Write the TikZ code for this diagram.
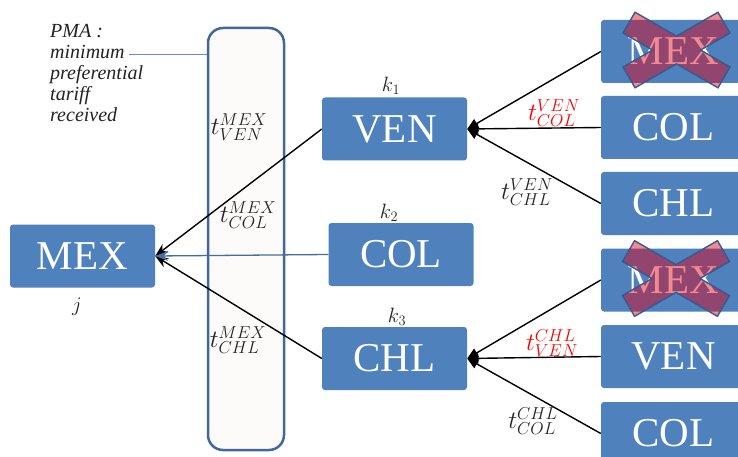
\documentclass[tikz,border=0pt]{standalone}
\usepackage{fontspec}
\setmainfont{Liberation Serif}
\usetikzlibrary{arrows.meta}

\definecolor{boxblue}{RGB}{79,129,189}
\definecolor{edgeblue}{RGB}{65,104,154}
\definecolor{panelfill}{RGB}{252,251,250}
\definecolor{crossfill}{RGB}{225,0,20}
\definecolor{crossedge}{RGB}{52,92,142}
\definecolor{labelgray}{RGB}{35,35,35}

\tikzset{
  country/.style={fill=boxblue, text=white, rounded corners=3pt,
    minimum width=145pt, minimum height=63pt, inner sep=0pt,
    font=\fontsize{41}{44}\selectfont},
  panel/.style={draw=edgeblue, line width=2.5pt, fill=panelfill,
    rounded corners=15pt, minimum width=76pt, minimum height=422pt},
  tariff/.style={text=labelgray, inner sep=0pt, font=\fontsize{23}{27}\selectfont},
  redtariff/.style={text=red, inner sep=0pt, font=\fontsize{23}{27}\selectfont},
  idx/.style={text=labelgray, inner sep=0pt, font=\fontsize{22}{26}\selectfont},
  toroot/.style={draw=black, line width=1.4pt, -{Stealth[length=13pt,width=10pt]}},
  torootblue/.style={draw=boxblue!85!black, line width=1.3pt, -{Stealth[length=13pt,width=10pt]}},
  tobranch/.style={draw=black, line width=1.4pt, -{Triangle[length=11pt,width=10pt]}},
  pics/excluded/.style={code={
    \draw[fill=crossfill, fill opacity=0.46, draw=crossedge, line width=1.4pt, line join=miter]
      (24,0) -- (53.46,17.01) -- (41.46,37.79) -- (0,13.86) -- (-41.46,37.79)
      -- (-53.46,17.01) -- (-24,0) -- (-53.46,-17.01) -- (-41.46,-37.79)
      -- (0,-13.86) -- (41.46,-37.79) -- (53.46,-17.01) -- cycle;
  }}
}

\begin{document}
\begin{tikzpicture}[x=1pt, y=-1pt]
  \clip (0,0) rectangle (738,457);
  \fill[white] (0,0) rectangle (738,457);

  % tariff panel
  \node[panel] (panel) at (246,239) {};

  % note on the panel
  \node[anchor=north west, align=left, inner sep=0pt,
        font=\fontsize{20}{21}\selectfont\itshape, text=labelgray] (pma) at (50,24)
    {PMA :\\minimum\\preferential\\tariff\\received};
  \coordinate (pmaend) at (129,54);
  \draw[draw=boxblue!90!white, line width=0.9pt] (pmaend) -- (pmaend -| panel.west);

  % importer
  \node[country] (mex) at (82.5,256) {MEX};
  \node[idx] (jlab) at (77,307) {$j$};

  % exporters
  \node[country] (ven) at (394.5,129) {VEN};
  \node[country] (col) at (401,254.5) {COL};
  \node[country] (chl) at (394.5,358.5) {CHL};
  \node[idx] (k1) at (391,86) {$k_1$};
  \node[idx] (k2) at (389,213) {$k_2$};
  \node[idx] (k3) at (397,317) {$k_3$};

  % partners of VEN
  \node[country] (venmex) at (673.5,51.5) {MEX};
  \node[country] (vencol) at (673.5,127.5) {COL};
  \node[country] (venchl) at (673.5,203.5) {CHL};

  % partners of CHL
  \node[country] (chlmex) at (673.5,280) {MEX};
  \node[country] (chlven) at (673.5,356.5) {VEN};
  \node[country] (chlcol) at (673.5,433.5) {COL};

  % excluded partners
  \pic at (676.5,50) {excluded};
  \pic at (676,278.5) {excluded};

  % flows into MEX
  \draw[toroot] (ven.west) -- (mex.east);
  \draw[toroot] (chl.west) -- (mex.east);
  \draw[torootblue] (col.west) -- (mex.east);

  % flows into VEN
  \draw[tobranch] (venmex.west) -- (ven.east);
  \draw[tobranch] (vencol.west) -- (ven.east);
  \draw[tobranch] (venchl.west) -- (ven.east);

  % flows into CHL
  \draw[tobranch] (chlmex.west) -- (chl.east);
  \draw[tobranch] (chlven.west) -- (chl.east);
  \draw[tobranch] (chlcol.west) -- (chl.east);

  % tariff labels
  \node[tariff] (tmv) at (239,127) {$t^{MEX}_{VEN}$};
  \node[tariff] (tmc) at (248,215) {$t^{MEX}_{COL}$};
  \node[tariff] (tmh) at (238,340) {$t^{MEX}_{CHL}$};
  \node[redtariff] (tvc) at (554,113) {$t^{VEN}_{COL}$};
  \node[tariff] (tvh) at (527,192) {$t^{VEN}_{CHL}$};
  \node[redtariff] (thv) at (552,343) {$t^{CHL}_{VEN}$};
  \node[tariff] (thc) at (533,421) {$t^{CHL}_{COL}$};
\end{tikzpicture}
\end{document}
